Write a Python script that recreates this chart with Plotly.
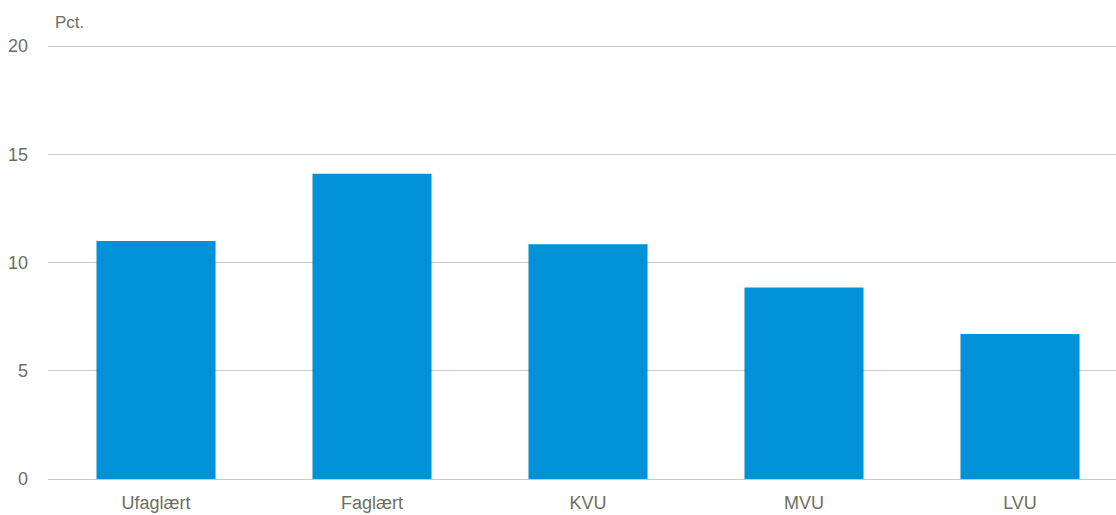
import plotly.graph_objects as go

categories = ["Ufaglært", "Faglært", "KVU", "MVU", "LVU"]
values = [11.0, 14.1, 10.85, 8.85, 6.7]
y_ticks = [0, 5, 10, 15, 20]

text_color = "#6E6E60"
grid_color = "#C9C9C0"
bar_color = "#0091D6"
font_family = "Liberation Sans, Arial"

fig = go.Figure(go.Bar(x=categories, y=values, marker=dict(color=bar_color, line=dict(width=0))))

fig.update_layout(
    width=1128, height=515,
    margin=dict(l=48, r=0, t=44, b=36, autoexpand=False),
    paper_bgcolor="white", plot_bgcolor="white",
    bargap=0.449,
    showlegend=False,
    font=dict(family=font_family, size=18, color=text_color),
    xaxis=dict(showgrid=False, showline=False, ticks="", automargin=False,
               ticklabelstandoff=11, tickfont=dict(size=18, color=text_color)),
    yaxis=dict(range=[0, 20.1], tickvals=y_ticks, showgrid=True, gridcolor=grid_color, gridwidth=1,
               zeroline=True, zerolinecolor=grid_color, zerolinewidth=1, showline=False,
               ticks="", ticklabelstandoff=19, automargin=False,
               tickfont=dict(size=18, color=text_color)),
    annotations=[dict(text="Pct.", xref="paper", yref="paper", x=0, y=1, xshift=5, yshift=10,
                      xanchor="left", yanchor="bottom", showarrow=False,
                      font=dict(size=17, color=text_color))],
)

fig.write_html("out.html", config={"displayModeBar": False},
               post_script="document.body.style.margin='0';document.body.style.overflow='hidden';")
